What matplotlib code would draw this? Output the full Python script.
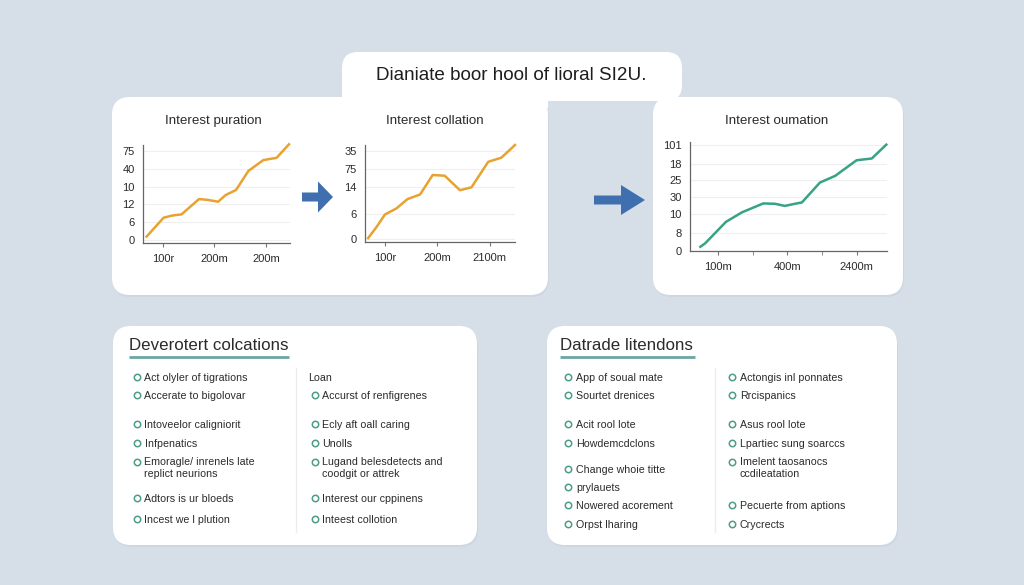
import matplotlib
matplotlib.use("Agg")
import matplotlib.pyplot as plt
from matplotlib.patches import FancyBboxPatch, FancyArrow

plt.rcParams['font.family'] = ['Liberation Sans', 'DejaVu Sans']

# ---- data ----
main_title = "Dianiate boor hool of lioral SI2U."

c1_title = "Interest puration"
c1_x = [0.68, 1.01, 1.17, 1.36, 1.70, 1.88, 2.07, 2.22, 2.42, 2.66, 2.95, 3.21, 3.45]
c1_y = [0.19, 1.25, 1.37, 1.44, 2.30, 2.25, 2.15, 2.53, 2.81, 3.88, 4.49, 4.62, 5.38]
c1_yticks = [0, 1, 2, 3, 4, 5]
c1_ylabels = ["0", "6", "12", "10", "40", "75"]
c1_xlabels = ["100r", "200m", "200m"]

c2_title = "Interest collation"
c2_x = [0.68, 0.84, 1.00, 1.22, 1.43, 1.67, 1.91, 2.14, 2.43, 2.65, 2.97, 3.22, 3.48]
c2_y = [0.22, 0.84, 1.54, 1.88, 2.40, 2.66, 3.75, 3.71, 2.90, 3.06, 4.49, 4.72, 5.43]
c2_yticks = [0.15, 1.54, 3.09, 4.08, 5.10]
c2_ylabels = ["0", "6", "14", "75", "35"]
c2_xlabels = ["100r", "200m", "2100m"]

c3_title = "Interest oumation"
c3_x = [0.74, 0.81, 1.11, 1.34, 1.65, 1.82, 1.96, 2.21, 2.47, 2.69, 3.00, 3.22, 3.43]
c3_y = [0.24, 0.44, 1.66, 2.20, 2.71, 2.69, 2.57, 2.77, 3.90, 4.28, 5.17, 5.27, 6.06]
c3_yticks = [0, 1, 2.1, 3.05, 4.03, 4.98, 6.02]
c3_ylabels = ["0", "8", "10", "30", "25", "18", "101"]
c3_xlabels = ["100m", "400m", "2400m"]

box1_title = "Deverotert colcations"
box1_left = ["Act olyler of tigrations", "Accerate to bigolovar", "Intoveelor caligniorit",
             "Infpenatics", "Emoragle/ inrenels late\nreplict neurions", "Adtors is ur bloeds",
             "Incest we l plution"]
box1_right = ["Loan", "Accurst of renfigrenes", "Ecly aft oall caring", "Unolls",
              "Lugand belesdetects and\ncoodgit or attrek", "Interest our cppinens",
              "Inteest collotion"]

box2_title = "Datrade litendons"
box2_left = ["App of soual mate", "Sourtet drenices", "Acit rool lote", "Howdemcdclons",
             "Change whoie titte", "prylauets", "Nowered acorement", "Orpst lharing"]
box2_right = ["Actongis inl ponnates", "Rrcispanics", "Asus rool lote",
              "Lpartiec sung soarccs", "Imelent taosanocs\nccdileatation",
              "Pecuerte from aptions", "Crycrects"]

# ---- style ----
BG = "#d6dee8"
ORANGE = "#e8a232"
GREEN = "#37a284"
BLUE = "#3f6fae"
TEAL = "#4e9c88"
TXT = "#2b2b2b"

W, H = 1024, 585
fig = plt.figure(figsize=(W / 100, H / 100), dpi=100)
fig.patch.set_facecolor(BG)

bg = fig.add_axes([0, 0, 1, 1])
bg.set_xlim(0, W)
bg.set_ylim(H, 0)
bg.axis("off")


def panel(x0, y0, x1, y1, r=18, shadow=True):
    if shadow:
        sh = FancyBboxPatch((x0 + 1, y0 + 2), x1 - x0, y1 - y0,
                            boxstyle="round,pad=0,rounding_size=%d" % r,
                            fc="#c8d0db", ec="none", alpha=0.5, zorder=1)
        bg.add_patch(sh)
    p = FancyBboxPatch((x0, y0), x1 - x0, y1 - y0,
                       boxstyle="round,pad=0,rounding_size=%d" % r,
                       fc="white", ec="none", zorder=2)
    bg.add_patch(p)


panel(342, 52, 682, 101, r=16, shadow=False)
panel(112, 97, 548, 295)
panel(653, 97, 903, 295)
panel(113, 326, 477, 545)
panel(547, 326, 897, 545)
# merge title box into left chart panel
bg.add_patch(FancyBboxPatch((342, 88), 206, 20, boxstyle="square,pad=0",
                            fc="white", ec="none", zorder=3))

bg.text(511, 76, main_title, fontsize=13.6, color="#1e1e1e", ha="center", va="center", zorder=5)

# arrows
bg.add_patch(FancyArrow(302, 197, 16, 0, width=9, head_width=31, head_length=15,
                        length_includes_head=False, fc=BLUE, ec="none", zorder=5))
bg.add_patch(FancyArrow(594, 200, 27, 0, width=9, head_width=30, head_length=24,
                        length_includes_head=False, fc=BLUE, ec="none", zorder=5))


def fig_axes(x0, y0, x1, y1):
    return fig.add_axes([x0 / W, 1 - y1 / H, (x1 - x0) / W, (y1 - y0) / H])


def line_chart(box, title, tx, xs, ys, yticks, ylabels, xlabels, color, xlim, ylim, minor=False):
    ax = fig_axes(*box)
    ax.set_facecolor("none")
    ax.plot(xs, ys, color=color, lw=1.8, solid_joinstyle="round", clip_on=False, zorder=3)
    ax.set_xlim(*xlim)
    ax.set_ylim(*ylim)
    ax.set_yticks(yticks)
    ax.set_yticklabels(ylabels)
    ax.set_xticks([1, 2, 3])
    ax.set_xticklabels(xlabels)
    if minor:
        ax.set_xticks([1.5, 2.5], minor=True)
        ax.tick_params(axis="x", which="minor", length=3, color="#777777")
    for s in ["top", "right"]:
        ax.spines[s].set_visible(False)
    for s in ["left", "bottom"]:
        ax.spines[s].set_color("#666666")
        ax.spines[s].set_linewidth(0.9)
    ax.tick_params(axis="y", length=0, pad=6, labelsize=8, labelcolor=TXT)
    ax.tick_params(axis="x", which="major", length=3, color="#777777", pad=5,
                   labelsize=8, labelcolor=TXT)
    ax.grid(axis="y", color="#efefef", lw=0.8)
    ax.set_axisbelow(True)
    bg.text(tx, 121, title, fontsize=9.6, color=TXT, ha="center", va="center", zorder=5)
    return ax


line_chart((143, 145, 290, 243), c1_title, 213, c1_x, c1_y, c1_yticks, c1_ylabels,
           c1_xlabels, ORANGE, (0.61, 3.47), (-0.17, 5.34))
line_chart((365, 145, 515, 242), c2_title, 435, c2_x, c2_y, c2_yticks, c2_ylabels,
           c2_xlabels, ORANGE, (0.62, 3.48), (0, 5.43))
line_chart((690, 142, 887, 251), c3_title, 777, c3_x, c3_y, c3_yticks, c3_ylabels,
           c3_xlabels, GREEN, (0.59, 3.44), (0, 6.21), minor=True)


def bullet_column(items, rows, bx, tx, skip_first=False):
    for i, (label, y) in enumerate(zip(items, rows)):
        n = label.count("\n")
        if skip_first and i == 0:
            bg.text(bx - 6, y, label, fontsize=7.7, color=TXT, ha="left",
                    va="center_baseline", zorder=5)
            continue
        if n:
            bg.text(tx, y - 5, label, fontsize=7.7, color=TXT, ha="left", va="top",
                    linespacing=1.3, zorder=5)
        else:
            bg.text(tx, y, label, fontsize=7.7, color=TXT, ha="left",
                    va="center_baseline", zorder=5)
        bg.plot(bx, y, marker="o", ms=4.6, mfc="white", mec=TEAL, mew=1.1, zorder=5)


# bottom-left box
bg.text(129, 346, box1_title, fontsize=12.2, color=TXT, ha="left", va="center", zorder=5)
bg.plot([129, 289], [357, 357], color="#6aa6a4", lw=2, zorder=5, solid_capstyle="butt")
bg.plot([296, 296], [368, 532], color="#ececec", lw=1, zorder=4)
rows1 = [377, 395, 424, 443, 462, 498, 519]
bullet_column(box1_left, rows1, 136.5, 144.5)
bullet_column(box1_right, rows1, 314.5, 322.5, skip_first=True)

# bottom-right box
bg.text(560, 346, box2_title, fontsize=12.2, color=TXT, ha="left", va="center", zorder=5)
bg.plot([560, 695], [357, 357], color="#6aa6a4", lw=2, zorder=5, solid_capstyle="butt")
bg.plot([715, 715], [368, 532], color="#ececec", lw=1, zorder=4)
bullet_column(box2_left, [377, 395, 424, 443, 469, 487, 505, 524], 568, 576)
bullet_column(box2_right, [377, 395, 424, 443, 462, 505, 524], 732, 740)

fig.savefig("out.png", dpi=100, facecolor=BG)
